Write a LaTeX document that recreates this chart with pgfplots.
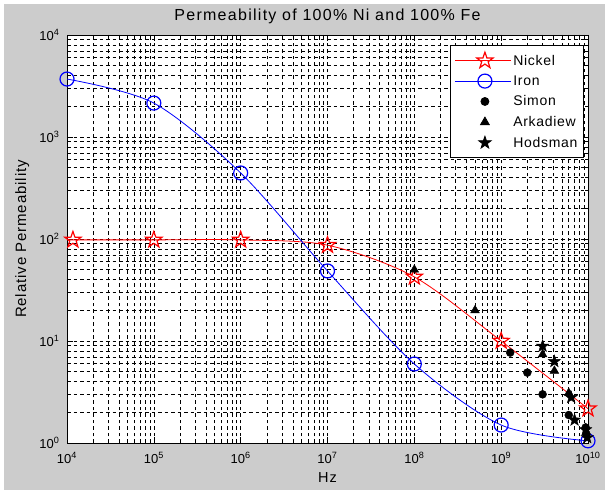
\documentclass[border=0pt]{standalone}
\usepackage{pgfplots}
\pgfplotsset{compat=1.18}
\usepackage{fontspec}
\setmainfont{Liberation Sans}
\usetikzlibrary{backgrounds,calc}
\definecolor{figgray}{RGB}{204,204,204}
\definecolor{mred}{RGB}{255,0,0}
\definecolor{mblue}{RGB}{0,0,255}
\pgfdeclareplotmark{pentagram}{%
  \pgfpathmoveto{\pgfpointpolar{90}{\pgfplotmarksize}}%
  \pgfpathlineto{\pgfpointpolar{126}{0.4\pgfplotmarksize}}%
  \pgfpathlineto{\pgfpointpolar{162}{\pgfplotmarksize}}%
  \pgfpathlineto{\pgfpointpolar{198}{0.4\pgfplotmarksize}}%
  \pgfpathlineto{\pgfpointpolar{234}{\pgfplotmarksize}}%
  \pgfpathlineto{\pgfpointpolar{270}{0.4\pgfplotmarksize}}%
  \pgfpathlineto{\pgfpointpolar{306}{\pgfplotmarksize}}%
  \pgfpathlineto{\pgfpointpolar{342}{0.4\pgfplotmarksize}}%
  \pgfpathlineto{\pgfpointpolar{18}{\pgfplotmarksize}}%
  \pgfpathlineto{\pgfpointpolar{54}{0.4\pgfplotmarksize}}%
  \pgfpathclose
  \pgfusepathqstroke
}
\pgfdeclareplotmark{pentagram*}{%
  \pgfpathmoveto{\pgfpointpolar{90}{\pgfplotmarksize}}%
  \pgfpathlineto{\pgfpointpolar{126}{0.4\pgfplotmarksize}}%
  \pgfpathlineto{\pgfpointpolar{162}{\pgfplotmarksize}}%
  \pgfpathlineto{\pgfpointpolar{198}{0.4\pgfplotmarksize}}%
  \pgfpathlineto{\pgfpointpolar{234}{\pgfplotmarksize}}%
  \pgfpathlineto{\pgfpointpolar{270}{0.4\pgfplotmarksize}}%
  \pgfpathlineto{\pgfpointpolar{306}{\pgfplotmarksize}}%
  \pgfpathlineto{\pgfpointpolar{342}{0.4\pgfplotmarksize}}%
  \pgfpathlineto{\pgfpointpolar{18}{\pgfplotmarksize}}%
  \pgfpathlineto{\pgfpointpolar{54}{0.4\pgfplotmarksize}}%
  \pgfpathclose
  \pgfusepathqfillstroke
}
\begin{document}
\begin{tikzpicture}
\begin{axis}[
  scale only axis, width=521pt, height=408pt,
  xmode=log, ymode=log, log basis x=10, log basis y=10,
  xmin=1e4, xmax=1e10, ymin=1, ymax=1e4,
  axis background/.style={fill=white},
  xtick={1e4,1e5,1e6,1e7,1e8,1e9,1e10},
  xticklabels={10\textsuperscript{4},10\textsuperscript{5},10\textsuperscript{6},10\textsuperscript{7},10\textsuperscript{8},10\textsuperscript{9},10\textsuperscript{10}},
  ytick={1,10,100,1000,10000},
  yticklabels={10\textsuperscript{0},10\textsuperscript{1},10\textsuperscript{2},10\textsuperscript{3},10\textsuperscript{4}},
  minor xtick={2e4,3e4,4e4,5e4,6e4,7e4,8e4,9e4,2e5,3e5,4e5,5e5,6e5,7e5,8e5,9e5,2e6,3e6,4e6,5e6,6e6,7e6,8e6,9e6,2e7,3e7,4e7,5e7,6e7,7e7,8e7,9e7,2e8,3e8,4e8,5e8,6e8,7e8,8e8,9e8,2e9,3e9,4e9,5e9,6e9,7e9,8e9,9e9},
  minor ytick={2,3,4,5,6,7,8,9,20,30,40,50,60,70,80,90,200,300,400,500,600,700,800,900,2000,3000,4000,5000,6000,7000,8000,9000},
  tick align=inside, tick pos=both,
  major tick length=6pt, minor tick length=3pt,
  tick style={black, line width=0.6pt},
  xmajorgrids, ymajorgrids, xminorgrids, yminorgrids,
  major grid style={black, line width=0.6pt, dash pattern=on 3.5pt off 3pt},
  minor grid style={black, line width=0.6pt, dash pattern=on 3.5pt off 3pt},
  axis line style={black, line width=0.8pt},
  ticklabel style={font=\fontsize{13}{15}\selectfont},
  xticklabel style={yshift=-6pt},
  yticklabel style={xshift=-4pt},
  title={Permeability of 100\% Ni and 100\% Fe},
  title style={font=\fontsize{16}{19}\selectfont\addfontfeatures{LetterSpace=8}, at={(axis description cs:0.5,1)}, anchor=base, yshift=8pt},
  xlabel={Hz},
  xlabel style={font=\fontsize{14.5}{17}\selectfont\addfontfeatures{LetterSpace=6}, at={(axis description cs:0.5,-0.098)}, anchor=base},
  ylabel={Relative Permeability},
  ylabel style={font=\fontsize{15}{18}\selectfont\addfontfeatures{LetterSpace=6}, at={(axis description cs:-0.072,0.5)}, anchor=south, inner sep=0pt},
  legend image code/.code={\draw[mark repeat=2,mark phase=2] plot coordinates {(0pt,0pt) (30pt,0pt) (56pt,0pt)};},
  legend style={at={(0.992,0.976)}, anchor=north east, draw=black, fill=white, line width=0.8pt,
    font=\fontsize{14}{16}\selectfont\addfontfeatures{LetterSpace=5}, row sep=5pt, inner xsep=4pt, inner ysep=7pt},
  legend cell align=left,
]
\addplot[mred, line width=0.8pt, smooth, forget plot]
  coordinates {(1e4,98) (1.17e4,98) (1e5,98) (1e6,98) (1e7,87) (1e8,42.5) (1e9,10) (1e10,2.17)};
\addplot[mred, line width=0.8pt, only marks, mark=pentagram, mark size=8.5pt, mark options={line width=1.2pt, solid},
  legend image code/.code={\draw[line width=0.8pt] (0pt,0pt) -- (56pt,0pt); \draw plot coordinates {(30pt,0pt)};}]
  coordinates {(1.17e4,98) (1e5,98) (1e6,98) (1e7,87) (1e8,42.5) (1e9,10) (1e10,2.17)};
\addlegendentry{Nickel}
\addplot[mblue, line width=0.8pt, smooth, mark=o, mark size=7pt, mark options={line width=1.2pt, solid}]
  coordinates {(1e4,3700) (1e5,2150) (1e6,444) (1e7,48.6) (1e8,5.95) (1e9,1.5) (1e10,1.05)};
\addlegendentry{Iron}
\addplot[only marks, black, mark=*, mark size=4pt]
  coordinates {(1.27e9,7.7) (2e9,4.9) (3e9,3.0) (6e9,1.88) (9.4e9,1.42) (9.6e9,1.22)};
\addlegendentry{Simon}
\addplot[only marks, black, mark=triangle*, mark size=5pt]
  coordinates {(1e8,50) (5e8,20) (3e9,7.4) (4.1e9,5.1) (6e9,3.1)};
\addlegendentry{Arkadiew}
\addplot[only marks, black, mark=pentagram*, mark size=6.5pt]
  coordinates {(3e9,8.9) (4.1e9,6.3) (6.4e9,2.8) (7e9,1.68) (9.4e9,1.35) (9.8e9,1.13)};
\addlegendentry{Hodsman}
\end{axis}
\begin{scope}[on background layer]
\fill[figgray] ($(current axis.south west)+(-63pt,-47pt)$) rectangle ($(current axis.north east)+(17pt,31pt)$);
\end{scope}
\pgfresetboundingbox
\path ($(current axis.south west)+(-67pt,-47pt)$) rectangle ($(current axis.north east)+(20pt,35pt)$);
\end{tikzpicture}
\end{document}
